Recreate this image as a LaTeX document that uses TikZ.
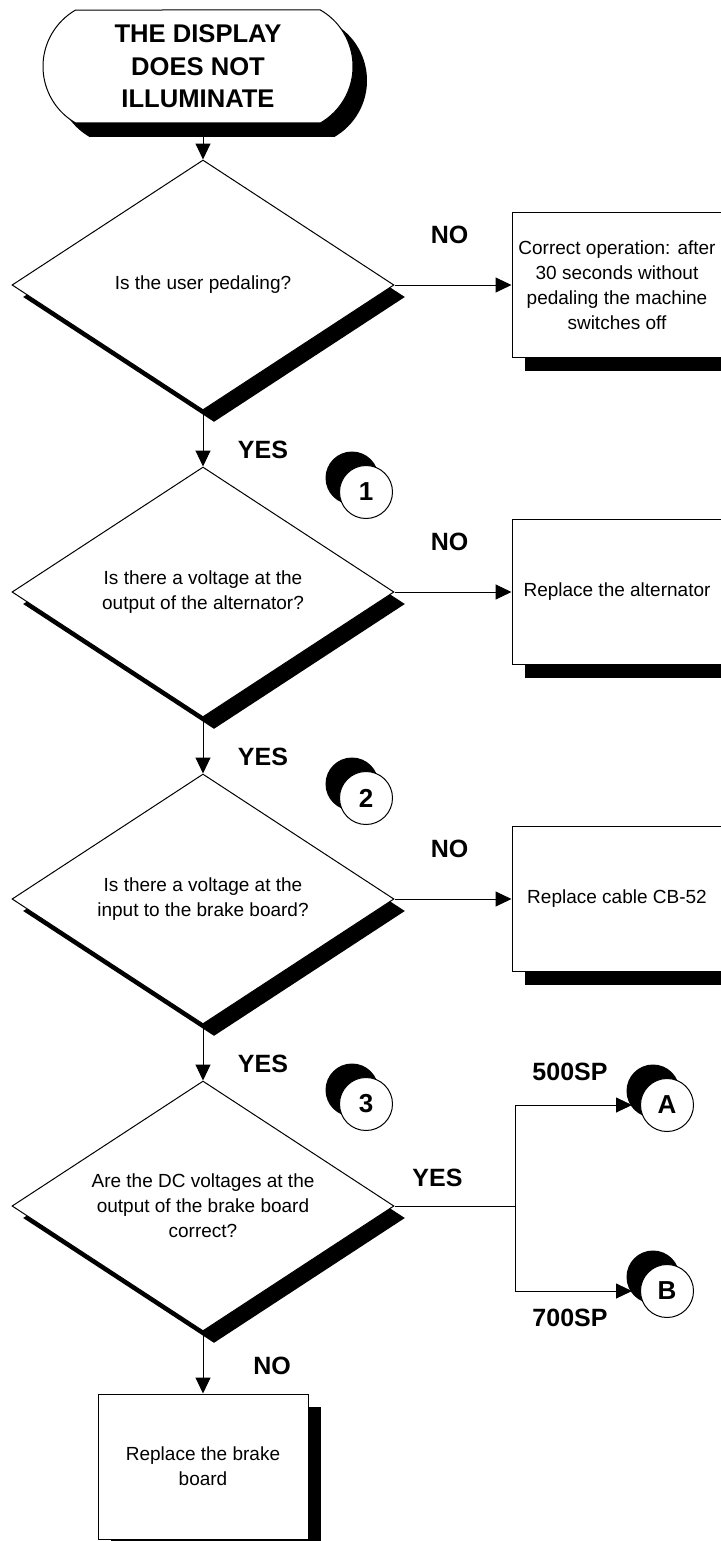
\documentclass[tikz,border=0pt]{standalone}
\usepackage{fontspec}
\setmainfont{Liberation Sans}
\usepackage{tikz}
\usetikzlibrary{arrows.meta,shapes,positioning,shadows,calc}
\tikzstyle{arrow} = [line width=0.5pt,-{Triangle[length=8pt,width=7.5pt]}]
\tikzstyle{startstop} = [rounded rectangle, rounded rectangle arc length=120, minimum width=155pt, minimum height=56.5pt, inner sep=0pt, draw, line width=0.5pt, fill=white, align=center, font=\fontsize{12.8}{16.25}\selectfont\bfseries, drop shadow={shadow xshift=7pt, shadow yshift=-7pt, fill=black, opacity=1}]
\tikzstyle{decision} = [diamond, aspect=1.53, minimum width=191pt, minimum height=125pt, inner sep=0pt, draw, line width=0.5pt, fill=white, align=center, font=\fontsize{9.5}{12.5}\selectfont, drop shadow={shadow xshift=5.5pt, shadow yshift=-6pt, fill=black, opacity=1}]
\tikzstyle{actionbox} = [rectangle, minimum width=105pt, minimum height=72.5pt, inner sep=2pt, draw, line width=0.5pt, fill=white, align=center, font=\fontsize{9.5}{12.5}\selectfont, drop shadow={shadow xshift=6.5pt, shadow yshift=-6.5pt, fill=black, opacity=1}]
\tikzstyle{refcircle} = [circle, minimum size=26.5pt, inner sep=0pt, draw, line width=0.5pt, fill=white, font=\fontsize{13}{15}\selectfont\bfseries, drop shadow={shadow xshift=-7pt, shadow yshift=7pt, fill=black, opacity=1}]
\tikzstyle{answer} = [font=\fontsize{12.5}{15}\selectfont\bfseries, inner sep=0pt]

\begin{document}
\begin{tikzpicture}[x=0.5pt, y=-0.5pt]
\useasboundingbox (0,0) rectangle (721,1541);

\node[startstop] (start) at (198,66.5) {THE DISPLAY\\DOES NOT\\ILLUMINATE};

\node[decision] (d1) at (203,285) {Is the user pedaling?};
\node[decision, below=28pt of d1] (d2) {Is there a voltage at the\\output of the alternator?};
\node[decision, below=28pt of d2] (d3) {Is there a voltage at the\\input to the brake board?};
\node[decision, below=28pt of d3] (d4) {Are the DC voltages at the\\output of the brake board\\correct?};

\node[actionbox, right=58.5pt of d1] (b1) {Correct operation: after\\30 seconds without\\pedaling the machine\\switches off};
\node[actionbox, right=58.5pt of d2] (b2) {Replace the alternator};
\node[actionbox, right=58.5pt of d3] (b3) {Replace cable CB-52};
\node[actionbox, below=31pt of d4] (b4) {Replace the brake\\board};

\node[refcircle] (c1) at (366,492) {1};
\node[refcircle] (c2) at (366,798) {2};
\node[refcircle] (c3) at (366,1104) {3};
\node[refcircle] (cA) at (667,1105) {A};
\node[refcircle] (cB) at (667,1291) {B};

% answers
\node[answer] (no1) at ($(d1.east)+(55,-50)$) {NO};
\node[answer] (no2) at ($(d2.east)+(55,-50)$) {NO};
\node[answer] (no3) at ($(d3.east)+(55,-50)$) {NO};
\node[answer] (yes1) at ($(d1.south)+(60,39)$) {YES};
\node[answer] (yes2) at ($(d2.south)+(60,39)$) {YES};
\node[answer] (yes3) at ($(d3.south)+(60,39)$) {YES};
\node[answer] (yes4) at ($(d4.east)+(43,-28)$) {YES};
\node[answer] (no4) at ($(d4.south)+(69,34)$) {NO};
\node[answer] (sp500) at (570,1072) {500SP};
\node[answer] (sp700) at (570,1318) {700SP};

% connectors
\draw[arrow] (start.south -| d1.north) -- (d1.north);
\draw[arrow] (d1.south) -- (d2.north);
\draw[arrow] (d2.south) -- (d3.north);
\draw[arrow] (d3.south) -- (d4.north);
\draw[arrow] (d4.south) -- (b4.north);
\draw[arrow] (d1.east) -- (b1.west);
\draw[arrow] (d2.east) -- (b2.west);
\draw[arrow] (d3.east) -- (b3.west);
\coordinate (split) at ($(d4.east)+(121,0)$);
\draw[line width=0.5pt] (d4.east) -- (split);
\draw[arrow, shorten >=4pt] (split) |- (cA);
\draw[arrow, shorten >=4pt] (split) |- (cB);
\end{tikzpicture}
\end{document}
